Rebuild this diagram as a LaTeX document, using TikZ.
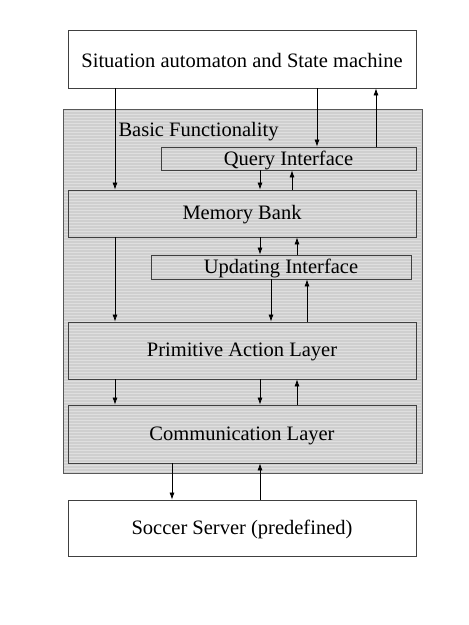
\documentclass[tikz,border=0pt]{standalone}
\usepackage{fontspec}
\setmainfont{Liberation Serif}
\usetikzlibrary{arrows.meta}
\begin{document}
\begin{tikzpicture}[x=1pt,y=-1pt,
  every node/.style={font=\fontsize{20.5}{24}\selectfont},
  lbl/.style={yshift=-1.5pt},
  wbox/.style={draw=black!75,line width=0.8pt,fill=white,minimum width=348pt,inner sep=0pt},
  gbox/.style={draw=black!75,line width=0.8pt,inner sep=0pt},
  arr/.style={line width=0.7pt,-{Latex[length=7pt,width=5pt]}}]
\useasboundingbox (0,0) rectangle (469,625);
% container
\node[draw=black!65,line width=1pt,fill=black!19,minimum width=359pt,minimum height=364pt,inner sep=0pt] (bf) at (242.5,291) {};
\foreach \yy in {111,114,...,471} {\draw[white!35!black!19,line width=0.5pt] (64,\yy) -- (421,\yy);}
\node[anchor=west,lbl] (bft) at (115,130) {Basic Functionality};
\node[wbox,minimum height=58pt] (top) at (242,59) {};
\node[lbl] at (242,59) {Situation automaton and State machine};
\node[gbox,minimum width=255pt,minimum height=23pt] (qi) at (288.5,158.5) {};
\node[lbl] at (288.5,158.5) {Query Interface};
\node[gbox,minimum width=348pt,minimum height=47pt] (mem) at (242,213.5) {};
\node[lbl] at (242,213.5) {Memory Bank};
\node[gbox,minimum width=260pt,minimum height=24pt] (ui) at (281,267) {};
\node[lbl] at (281,267) {Updating Interface};
\node[gbox,minimum width=348pt,minimum height=57pt] (pal) at (242,350.5) {};
\node[lbl] at (242,350.5) {Primitive Action Layer};
\node[gbox,minimum width=348pt,minimum height=58pt] (cl) at (242,434) {};
\node[lbl] at (242,434) {Communication Layer};
\node[wbox,minimum height=56pt] (ss) at (242,528) {};
\node[lbl] at (242,528) {Soccer Server (predefined)};
% arrows
\draw[arr] (top.south -| 115,0) -- (mem.north -| 115,0);
\draw[arr] (top.south -| 317,0) -- (qi.north -| 317,0);
\draw[arr] (qi.north -| 376,0) -- (top.south -| 376,0);
\draw[arr] (qi.south -| 260,0) -- (mem.north -| 260,0);
\draw[arr] (mem.north -| 292,0) -- (qi.south -| 292,0);
\draw[arr] (mem.south -| 115,0) -- (pal.north -| 115,0);
\draw[arr] (mem.south -| 260,0) -- (ui.north -| 260,0);
\draw[arr] (ui.north -| 297,0) -- (mem.south -| 297,0);
\draw[arr] (ui.south -| 271,0) -- (pal.north -| 271,0);
\draw[arr] (pal.north -| 307,0) -- (ui.south -| 307,0);
\draw[arr] (pal.south -| 115,0) -- (cl.north -| 115,0);
\draw[arr] (pal.south -| 260,0) -- (cl.north -| 260,0);
\draw[arr] (cl.north -| 297,0) -- (pal.south -| 297,0);
\draw[arr] (cl.south -| 172,0) -- (ss.north -| 172,0);
\draw[arr] (ss.north -| 260,0) -- (cl.south -| 260,0);
\end{tikzpicture}
\end{document}
